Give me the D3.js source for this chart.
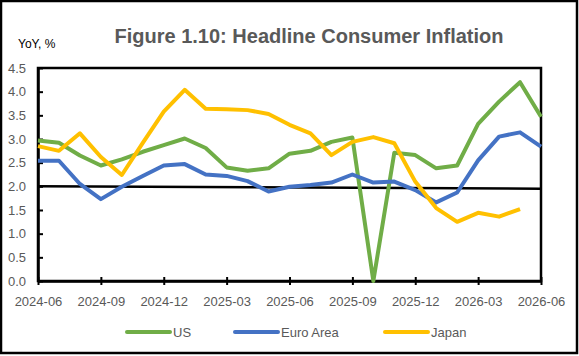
<!DOCTYPE html>
<html>
<head>
<meta charset="utf-8">
<script src="https://cdn.jsdelivr.net/npm/d3@7"></script>
<style>
  body { margin: 0; background: #fff; }
  svg text { font-family: "Liberation Sans", Arial, sans-serif; }
</style>
</head>
<body>
<div id="chart"></div>
<script>
var width = 579, height = 356;

// months shown on the x axis, 2024-06 .. 2026-06
var months = ["2024-06","2024-07","2024-08","2024-09","2024-10","2024-11","2024-12",
  "2025-01","2025-02","2025-03","2025-04","2025-05","2025-06","2025-07","2025-08",
  "2025-09","2025-10","2025-11","2025-12","2026-01","2026-02","2026-03","2026-04",
  "2026-05","2026-06"];

var usValues = [2.97, 2.92, 2.65, 2.44, 2.57, 2.73, 2.87, 3.01, 2.81, 2.40, 2.33, 2.38,
  2.69, 2.75, 2.94, 3.03, 0.0, 2.71, 2.66, 2.38, 2.44, 3.32, 3.79, 4.20, 3.47];
var euroValues = [2.54, 2.54, 2.05, 1.73, 1.99, 2.22, 2.44, 2.47, 2.25, 2.22, 2.11, 1.89,
  1.99, 2.03, 2.08, 2.25, 2.08, 2.10, 1.92, 1.66, 1.87, 2.55, 3.05, 3.14, 2.84];
var japanValues = [2.85, 2.75, 3.12, 2.62, 2.24, 2.92, 3.58, 4.04, 3.64, 3.63, 3.61, 3.53,
  3.30, 3.12, 2.66, 2.94, 3.04, 2.91, 2.10, 1.54, 1.25, 1.44, 1.36, 1.52, null];
// 2% reference line (start, end)
var targetValues = [2.0, 1.95];

var yTicks = [0, 0.5, 1, 1.5, 2, 2.5, 3, 3.5, 4, 4.5];
var xTickIdx = [0, 3, 6, 9, 12, 15, 18, 21, 24];

var series = [
  {name: "US", values: usValues, color: "#70AD47"},
  {name: "Euro Area", values: euroValues, color: "#4472C4"},
  {name: "Japan", values: japanValues, color: "#FFC000"}
];

var margin = {left: 38, right: 38, top: 68, bottom: 75};

var x = d3.scaleLinear()
    .domain([0, months.length - 1])
    .range([margin.left, width - margin.right]);
var y = d3.scaleLinear()
    .domain([0, 4.5])
    .range([height - margin.bottom, margin.top]);

var svg = d3.select("#chart").append("svg")
    .attr("width", width)
    .attr("height", height);

svg.append("rect")
    .attr("x", 1).attr("y", 1)
    .attr("width", 576).attr("height", 352)
    .attr("fill", "#fff")
    .attr("stroke", "#000")
    .attr("stroke-width", 2.5);

// title
svg.append("text")
    .attr("x", 309).attr("y", 43)
    .attr("text-anchor", "middle")
    .attr("font-size", 20)
    .attr("font-weight", "bold")
    .attr("fill", "#595959")
    .text("Figure 1.10: Headline Consumer Inflation");

svg.append("text")
    .attr("x", 18).attr("y", 48)
    .attr("font-size", 12)
    .attr("fill", "#000")
    .text("YoY, %");

// plot frame
svg.append("rect")
    .attr("x", x(0)).attr("y", y(4.5))
    .attr("width", x(24) - x(0)).attr("height", y(0) - y(4.5))
    .attr("fill", "none")
    .attr("stroke", "#000")
    .attr("stroke-width", 2.5);

var yAxis = svg.append("g")
    .attr("transform", "translate(" + margin.left + ",0)")
    .call(d3.axisLeft(y).tickValues(yTicks).tickFormat(d3.format(".1f"))
      .tickSizeInner(-5).tickSizeOuter(0).tickPadding(12));
yAxis.select(".domain").attr("stroke", "#000").attr("stroke-width", 2.5);
yAxis.selectAll(".tick line").attr("stroke", "#000").attr("stroke-width", 2);
yAxis.selectAll("text").attr("font-size", 13).attr("fill", "#595959")
    .attr("font-family", "Liberation Sans, Arial, sans-serif");

var xAxis = svg.append("g")
    .attr("transform", "translate(0," + y(0) + ")")
    .call(d3.axisBottom(x).tickValues(xTickIdx).tickFormat(function(i) { return months[i]; })
      .tickSizeInner(4).tickSizeOuter(0).tickPadding(12));
xAxis.select(".domain").attr("stroke", "#000").attr("stroke-width", 2.5);
xAxis.selectAll(".tick line").attr("y1", -4).attr("stroke", "#000").attr("stroke-width", 2);
xAxis.selectAll("text").attr("font-size", 13).attr("fill", "#595959")
    .attr("font-family", "Liberation Sans, Arial, sans-serif");

var line = d3.line()
    .defined(function(d) { return d != null; })
    .x(function(d, i) { return x(i); })
    .y(function(d) { return y(d); });

// target line
svg.append("line")
    .attr("x1", x(0)).attr("x2", x(24))
    .attr("y1", y(targetValues[0])).attr("y2", y(targetValues[1]))
    .attr("stroke", "#000")
    .attr("stroke-width", 2.5);

svg.selectAll(".series")
    .data(series)
    .enter().append("path")
      .attr("class", "series")
      .attr("fill", "none")
      .attr("stroke", function(d) { return d.color; })
      .attr("stroke-width", 4)
      .attr("stroke-linejoin", "round")
      .attr("d", function(d) { return line(d.values); });

// legend
var legendX = [127, 235, 385];
var legend = svg.selectAll(".legend")
    .data(series)
    .enter().append("g")
      .attr("class", "legend")
      .attr("transform", function(d, i) { return "translate(" + legendX[i] + ",332)"; });
legend.append("line")
    .attr("x1", 0).attr("x2", 43)
    .attr("stroke", function(d) { return d.color; })
    .attr("stroke-width", 4)
    .attr("stroke-linecap", "round");
legend.append("text")
    .attr("x", 46).attr("y", 5)
    .attr("font-size", 13)
    .attr("fill", "#595959")
    .text(function(d) { return d.name; });
</script>
</body>
</html>
